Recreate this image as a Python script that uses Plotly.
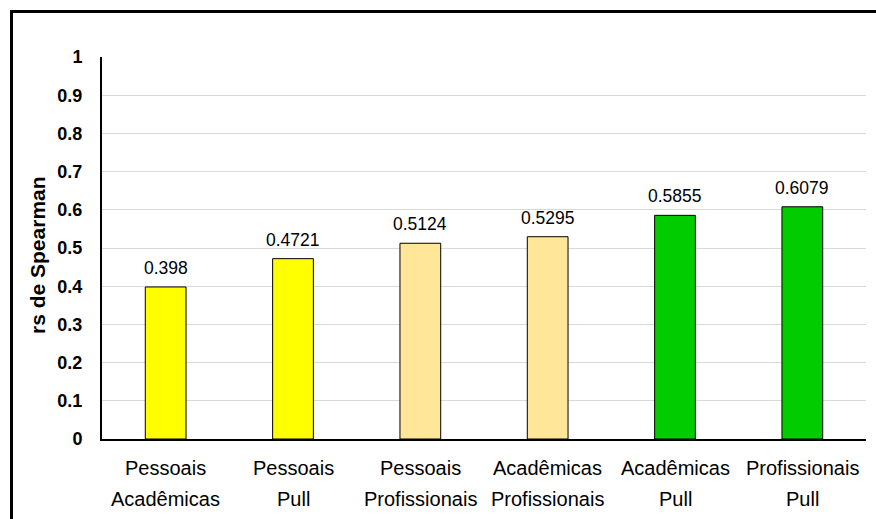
import plotly.graph_objects as go

cat_line1 = ["Pessoais", "Pessoais", "Pessoais", "Acadêmicas", "Acadêmicas", "Profissionais"]
cat_line2 = ["Acadêmicas", "Pull", "Profissionais", "Profissionais", "Pull", "Pull"]
categories = [a + " " + b for a, b in zip(cat_line1, cat_line2)]
values = [0.398, 0.4721, 0.5124, 0.5295, 0.5855, 0.6079]
value_labels = ["0.398", "0.4721", "0.5124", "0.5295", "0.5855", "0.6079"]
bar_colors = ["#FFFF00", "#FFFF00", "#FFE699", "#FFE699", "#00CC00", "#00CC00"]

W, H = 876, 519
L, R, T, B = 102, 10, 57, 80
pw, ph = W - L - R, H - T - B

fig = go.Figure()
fig.add_trace(go.Bar(
    x=categories, y=values, width=0.32,
    marker=dict(color=bar_colors, line=dict(color="black", width=1)),
    hoverinfo="skip",
))

annotations = []
for c, v, lab in zip(categories, values, value_labels):
    annotations.append(dict(x=c, y=v, xref="x", yref="y", text=lab, showarrow=False,
                            yanchor="bottom", yshift=7,
                            font=dict(family="Liberation Sans, Arial", size=17.5, color="black")))
for c, l1, l2 in zip(categories, cat_line1, cat_line2):
    annotations.append(dict(x=c, y=-(468 - (T + ph)) / ph, xref="x", yref="paper", text=l1,
                            showarrow=False, yanchor="middle",
                            font=dict(family="Liberation Sans, Arial", size=20, color="black")))
    annotations.append(dict(x=c, y=-(499 - (T + ph)) / ph, xref="x", yref="paper", text=l2,
                            showarrow=False, yanchor="middle",
                            font=dict(family="Liberation Sans, Arial", size=20, color="black")))
annotations.append(dict(x=(38 - L) / pw, y=(T + ph - 255) / ph, xref="paper", yref="paper",
                        text="<b>rs de Spearman</b>", textangle=-90, showarrow=False,
                        xanchor="center", yanchor="middle",
                        font=dict(family="Liberation Sans, Arial", size=21, color="black")))

fx = (11.5 - L) / pw
fy = 1 + (T - 11.5) / ph
fig.add_shape(type="rect", xref="paper", yref="paper", x0=fx, y0=-0.6, x1=1.3, y1=fy,
              line=dict(color="black", width=3), layer="above")

fig.update_layout(
    width=W, height=H,
    margin=dict(l=L, r=R, t=T, b=B),
    paper_bgcolor="white", plot_bgcolor="white",
    showlegend=False,
    annotations=annotations,
    xaxis=dict(showticklabels=False, showline=True, linecolor="black", linewidth=2,
               showgrid=False, ticks="", fixedrange=True),
    yaxis=dict(range=[0, 1], dtick=0.1, showline=True, linecolor="black", linewidth=2,
               showgrid=True, gridcolor="#D9D9D9", gridwidth=1, zeroline=False,
               ticks="", ticklabelstandoff=14,
               tickfont=dict(family="Liberation Sans, Arial", size=18, color="black", weight="bold")),
)

fig.write_html("out.html")
